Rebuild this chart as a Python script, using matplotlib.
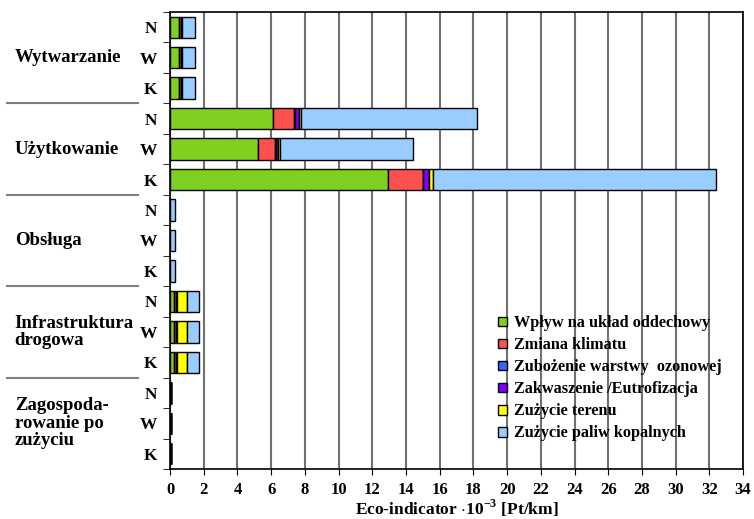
import numpy as np
import matplotlib
matplotlib.use("Agg")
import matplotlib.pyplot as plt
import matplotlib.transforms as mtransforms

plt.rcParams['font.family'] = ['Liberation Serif', 'DejaVu Serif']
plt.rcParams['font.weight'] = 'bold'
plt.rcParams['mathtext.fontset'] = 'custom'
plt.rcParams['mathtext.rm'] = 'Liberation Serif:bold'
plt.rcParams['mathtext.bf'] = 'Liberation Serif:bold'

# Grupy i warianty (od góry do dołu)
grupy = ["Wytwarzanie", "Użytkowanie", "Obsługa", "Infrastruktura\ndrogowa",
         "Zagospoda-\nrowanie po\nzużyciu"]
warianty = ["N", "W", "K"]

# Wartości kategorii dla 15 słupków (grupa x wariant)
uklad_oddechowy = [0.55, 0.55, 0.55, 6.13, 5.24, 12.96, 0.02, 0.02, 0.02,
                   0.22, 0.22, 0.22, 0.03, 0.03, 0.03]
zmiana_klimatu = [0.12, 0.12, 0.12, 1.25, 1.01, 2.04, 0.0, 0.0, 0.0,
                  0.15, 0.15, 0.15, 0.02, 0.02, 0.02]
warstwa_ozonowa = [0.0, 0.0, 0.0, 0.01, 0.01, 0.01, 0.0, 0.0, 0.0,
                   0.0, 0.0, 0.0, 0.0, 0.0, 0.0]
zakwaszenie = [0.05, 0.05, 0.05, 0.29, 0.12, 0.33, 0.0, 0.0, 0.0,
               0.03, 0.03, 0.03, 0.0, 0.0, 0.0]
zuzycie_terenu = [0.02, 0.02, 0.02, 0.1, 0.16, 0.26, 0.0, 0.0, 0.0,
                  0.6, 0.6, 0.6, 0.0, 0.0, 0.0]
paliwa_kopalne = [0.73, 0.73, 0.73, 10.41, 7.85, 16.81, 0.3, 0.3, 0.3,
                  0.74, 0.74, 0.74, 0.03, 0.03, 0.03]

serie = [
    ("Wpływ na układ oddechowy", uklad_oddechowy, "#80D020"),
    ("Zmiana klimatu", zmiana_klimatu, "#FF5050"),
    ("Zubożenie warstwy  ozonowej", warstwa_ozonowa, "#3366FF"),
    ("Zakwaszenie /Eutrofizacja", zakwaszenie, "#8000FF"),
    ("Zużycie terenu", zuzycie_terenu, "#FFFF00"),
    ("Zużycie paliw kopalnych", paliwa_kopalne, "#99CCFF"),
]

fig = plt.figure(figsize=(7.54, 5.19), dpi=100)
ax = fig.add_axes([0.2255, 0.0963, 0.76, 0.8807])

y = np.arange(15)
left = np.zeros(15)
for nazwa, wart, kolor in serie:
    wart = np.array(wart)
    ax.barh(y, wart, left=left, height=0.7, color=kolor, edgecolor="black",
            linewidth=1, label=nazwa, zorder=3)
    left += wart

ax.set_xlim(0, 34)
ax.set_ylim(14.5, -0.5)
ax.set_xticks(np.arange(0, 35, 2))
ax.tick_params(axis="x", direction="out", length=4, labelsize=12, pad=5)
ax.xaxis.grid(True, color="#707070", linewidth=1.5, zorder=0)
ax.set_xlabel(r"Eco-indicator $\cdot$10$^{-3}$ [Pt/km]", fontsize=12.5,
              fontweight="bold", labelpad=0)

ax.set_yticks(y)
ax.set_yticklabels(warianty * 5, fontsize=12.5, fontweight="bold")
ax.set_yticks(np.arange(-0.5, 15, 1), minor=True)
ax.tick_params(axis="y", which="major", length=0, pad=9)
ax.tick_params(axis="y", which="minor", length=5, direction="out")
for s in ax.spines.values():
    s.set_linewidth(1.2)

# Nazwy grup i linie oddzielające
trans = mtransforms.blended_transform_factory(ax.transAxes, ax.transData)
for i, g in enumerate(grupy):
    ax.text(-0.271, 3 * i + 1, g, transform=trans, ha="left", va="center",
            fontsize=13.5, fontweight="bold", linespacing=1.05)
for b in [2.5, 5.5, 8.5, 11.5]:
    ax.plot([-0.2845, -0.0558], [b, b], transform=trans, color="#808080",
            linewidth=1.5, clip_on=False)

leg = ax.legend(loc="upper left", bbox_to_anchor=(0.652, 0.405),
                bbox_transform=fig.transFigure, frameon=False,
                prop={"family": "Liberation Serif", "weight": "bold", "size": 11.7},
                handlelength=0.55, handleheight=0.55, handletextpad=0.45,
                labelspacing=0.37, borderaxespad=0)

fig.savefig("out.png", dpi=100)
